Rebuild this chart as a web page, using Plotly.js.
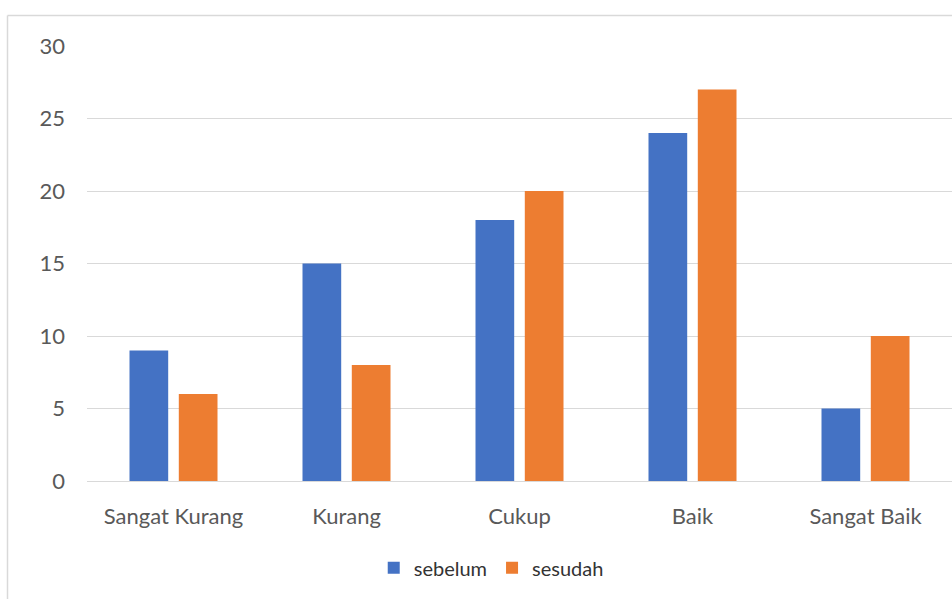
<!DOCTYPE html>
<html>
<head>
<meta charset="utf-8">
<script src="https://cdn.plot.ly/plotly-3.0.1.min.js"></script>
<style>
  html, body { margin: 0; padding: 0; background: #ffffff; }
  #chart { width: 952px; height: 599px; }
</style>
</head>
<body>
<div id="chart"></div>
<script>
// Assessment categories and counts before / after
const categories = ["Sangat Kurang", "Kurang", "Cukup", "Baik", "Sangat Baik"];
const sebelum = [9, 15, 18, 24, 5];
const sesudah = [6, 8, 20, 27, 10];
const yTicks = [0, 5, 10, 15, 20, 25, 30];

const gridGray = "#d9d9d9";
const textGray = "#595959";

const traces = [
  {
    type: "bar",
    name: "sebelum",
    x: categories,
    y: sebelum,
    marker: { color: "#4472C4" },
    hoverinfo: "x+y+name"
  },
  {
    type: "bar",
    name: "sesudah",
    x: categories,
    y: sesudah,
    marker: { color: "#ED7D31" },
    hoverinfo: "x+y+name"
  }
];

// plot-area geometry in pixels
const W = 952, H = 599;
const M = { l: 87, r: 0, t: 46, b: 118 };
const plotW = W - M.l - M.r;
const plotH = H - M.t - M.b;

// chart-area frame position (top and left edges visible in the window)
const frameTop = (H - M.b - 15.5) / plotH;
const frameLeft = (7.5 - M.l) / plotW;

const layout = {
  width: W,
  height: H,
  margin: M,
  paper_bgcolor: "#ffffff",
  plot_bgcolor: "#ffffff",
  font: { family: "Lato, 'Open Sans', sans-serif", color: textGray, size: 22 },
  barmode: "group",
  bargap: 0.43,
  bargroupgap: 0.215,
  xaxis: {
    type: "category",
    showgrid: false,
    showline: true,
    linecolor: gridGray,
    linewidth: 1,
    ticks: "",
    ticklabelstandoff: 16,
    tickfont: { size: 22, color: textGray },
    fixedrange: true
  },
  yaxis: {
    range: [0, 30],
    tickvals: yTicks,
    ticktext: yTicks.map(String),
    showgrid: true,
    gridcolor: gridGray,
    gridwidth: 1,
    zeroline: false,
    showline: false,
    ticks: "",
    ticklabelstandoff: 21,
    tickfont: { size: 22, color: textGray },
    fixedrange: true
  },
  showlegend: true,
  legend: {
    orientation: "h",
    xref: "container",
    yref: "container",
    x: 0.516,
    xanchor: "center",
    y: 0.052,
    yanchor: "middle",
    font: { size: 20, color: "#333333" },
    itemwidth: 30,
    bgcolor: "rgba(0,0,0,0)"
  },
  shapes: [
    { type: "line", xref: "paper", yref: "paper", x0: frameLeft, x1: 1.1, y0: frameTop, y1: frameTop,
      line: { color: gridGray, width: 1.5 } },
    { type: "line", xref: "paper", yref: "paper", x0: frameLeft, x1: frameLeft, y0: frameTop, y1: -0.4,
      line: { color: gridGray, width: 1.5 } }
  ],
  hovermode: "closest"
};

Plotly.newPlot("chart", traces, layout, { displayModeBar: false, staticPlot: true });
</script>
</body>
</html>
